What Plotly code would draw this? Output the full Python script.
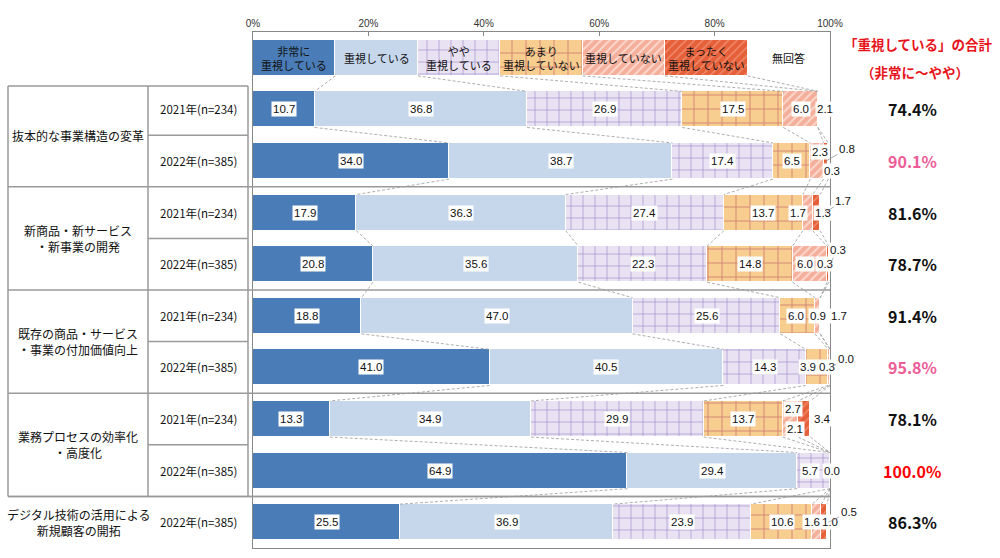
import plotly.graph_objects as go

# ---------------- data ----------------
CATEGORIES = ["非常に<br>重視している", "重視している", "やや<br>重視している",
              "あまり<br>重視していない", "重視していない", "まったく<br>重視していない", "無回答"]
GROUPS = ["抜本的な事業構造の変革", "新商品・新サービス<br>・新事業の開発",
          "既存の商品・サービス<br>・事業の付加価値向上", "業務プロセスの効率化<br>・高度化",
          "デジタル技術の活用による<br>新規顧客の開拓"]
GROUP_ROWS = [2, 2, 2, 2, 1]
YEARS = ["2021年(n=234)", "2022年(n=385)", "2021年(n=234)", "2022年(n=385)",
         "2021年(n=234)", "2022年(n=385)", "2021年(n=234)", "2022年(n=385)",
         "2022年(n=385)"]
HIGHLY = [10.7, 34.0, 17.9, 20.8, 18.8, 41.0, 13.3, 64.9, 25.5]
IMPORTANT = [36.8, 38.7, 36.3, 35.6, 47.0, 40.5, 34.9, 29.4, 36.9]
SOMEWHAT = [26.9, 17.4, 27.4, 22.3, 25.6, 14.3, 29.9, 5.7, 23.9]
NOT_MUCH = [17.5, 6.5, 13.7, 14.8, 6.0, 3.9, 13.7, 0.0, 10.6]
NOT_IMPORTANT = [6.0, 2.3, 1.7, 6.0, 0.9, 0.3, 2.7, None, 1.6]
NOT_AT_ALL = [None, 0.8, 1.3, 0.3, None, 0.0, 2.1, None, 1.0]
NO_ANSWER = [2.1, 0.3, 1.7, 0.3, 1.7, None, 3.4, None, 0.5]
TOTALS = [74.4, 90.1, 81.6, 78.7, 91.4, 95.8, 78.1, 100.0, 86.3]
TOTAL_HEADER = "「重視している」の合計"
TOTAL_SUBHEADER = "（非常に～やや）"
X_TICKS = [0, 20, 40, 60, 80, 100]

SERIES = [HIGHLY, IMPORTANT, SOMEWHAT, NOT_MUCH, NOT_IMPORTANT, NOT_AT_ALL, NO_ANSWER]

# ---------------- style ----------------
W, H = 1000, 558
TOP_PX, BOT_PX = 32, 548
X0_PX, X1_PX = 253, 830
BAR_W = 0.7
FONT = "Noto Sans CJK JP, Noto Sans, sans-serif"
NUMFONT = "Liberation Sans, Arial, Noto Sans CJK JP"

MARKERS = [
    dict(color="#4A7DB7"),
    dict(color="#C6D7EC"),
    dict(color="#E9E2F2", pattern=dict(shape="+", fgcolor="#9D84CA", bgcolor="#E9E2F2",
                                       size=12, solidity=0.1, fillmode="replace")),
    dict(color="#F8CD90", pattern=dict(shape="+", fgcolor="#D28374", bgcolor="#F8CD90",
                                       size=14, solidity=0.13, fillmode="replace")),
    dict(color="#F6B5A2", pattern=dict(shape="/", fgcolor="#FBD8CC", bgcolor="#F4AE9A",
                                       size=6, solidity=0.35, fillmode="replace")),
    dict(color="#E8663F", pattern=dict(shape="/", fgcolor="#EF8C6E", bgcolor="#E55F38",
                                       size=6, solidity=0.25, fillmode="replace")),
    dict(color="#FFFFFF"),
]
TOTAL_COLORS = ["#111111", "#EE5C98", "#111111", "#111111", "#111111",
                "#EE5C98", "#111111", "#FF0000", "#111111"]

# pixel shifts (x, y-up) for crowded small labels: (row, series)
LABEL_SHIFT = {
    (0, 6): (1, 0),
    (1, 4): (3, 9), (1, 5): (21, 12), (1, 6): (3, -10),
    (2, 4): (-10, 0), (2, 5): (7, 0), (2, 6): (18, 12),
    (3, 4): (-5, 0), (3, 5): (-3, 0), (3, 6): (8, 14),
    (4, 3): (-2, 0), (4, 4): (0, 0), (4, 6): (14, 0),
    (5, 3): (-9, 0), (5, 4): (-2, 0), (5, 5): (16, 8),
    (6, 4): (3, 10), (6, 5): (-9, -10), (6, 6): (2, 0),
    (7, 2): (-4, 0), (7, 3): (2, 0),
    (8, 4): (-5, 0), (8, 5): (6, 0), (8, 6): (20, 10),
}
# labels that sit outside the bar get a thin leader line
LEADER = {(1, 5), (2, 6), (3, 6), (5, 5), (8, 6)}

n_rows = len(YEARS)
n_cat = len(CATEGORIES)
legend_w = 100.0 / n_cat
rows_y = list(range(n_rows + 1))  # 0 = legend row


def py_paper(px):
    return 1 - px / H


def row_paper(r):
    pitch = (BOT_PX - TOP_PX) / (n_rows + 1)
    return py_paper(TOP_PX + (r + 0.5) * pitch)


fig = go.Figure()

for k, vals in enumerate(SERIES):
    fig.add_trace(go.Bar(
        orientation="h", y=rows_y, x=[legend_w] + list(vals), width=BAR_W,
        marker=dict(**MARKERS[k], line=dict(color="#FFFFFF", width=1.2)),
        hoverinfo="skip", showlegend=False,
    ))

# series (connector) lines
matrix = [[legend_w] * n_cat] + [[(SERIES[k][i] or 0) for k in range(n_cat)] for i in range(n_rows)]
cums = []
for row in matrix:
    c, acc = [], 0
    for v in row:
        acc += v
        c.append(min(round(acc, 6), 100))
    cums.append(c)
lx, ly = [], []
for i in range(n_rows):
    for k in range(n_cat - 1):
        lx += [cums[i][k], cums[i + 1][k], None]
        ly += [i + BAR_W / 2, i + 1 - BAR_W / 2, None]
fig.add_trace(go.Scatter(x=lx, y=ly, mode="lines", hoverinfo="skip", showlegend=False,
                         line=dict(color="#999999", width=0.8, dash="3px,2px")))

ann = []
# legend-row labels
for k, name in enumerate(CATEGORIES):
    ann.append(dict(x=(k + 0.5) * legend_w, y=0, xref="x", yref="y", text=name,
                    xanchor="center", showarrow=False,
                    font=dict(family=FONT, size=11, color="#111111")))
# data labels
for i in range(n_rows):
    start = 0
    for k in range(n_cat):
        v = SERIES[k][i]
        if v is None:
            continue
        dx, dy = LABEL_SHIFT.get((i, k), (0, 0))
        xc = min(round(start + v / 2, 6), 100)
        font = dict(family=NUMFONT, size=11.5, color="#111111")
        if (i, k) in LEADER:
            ann.append(dict(x=xc, y=i + 1, xref="x", yref="y", text=f"{v:.1f}",
                            showarrow=True, ax=dx, ay=-dy, arrowhead=0, arrowwidth=0.7,
                            arrowcolor="#888888", standoff=0, bgcolor="#FFFFFF",
                            borderpad=1, font=font))
        else:
            ann.append(dict(x=xc, y=i + 1, xref="x", yref="y", text=f"{v:.1f}",
                            xanchor="center", showarrow=False, xshift=dx, yshift=dy,
                            bgcolor="#FFFFFF", borderpad=1, font=font))
        start += v
# table text
r = 1
for g, cnt in zip(GROUPS, GROUP_ROWS):
    ann.append(dict(x=0.078, y=r + (cnt - 1) / 2, xref="paper", yref="y", text=g,
                    xanchor="center", showarrow=False,
                    font=dict(family=FONT, size=12, color="#111111")))
    r += cnt
for i, yl in enumerate(YEARS):
    ann.append(dict(x=0.198, y=i + 1, xref="paper", yref="y", text=yl, xanchor="center",
                    showarrow=False, font=dict(family=FONT, size=11.5, color="#111111")))
# totals
for i, t in enumerate(TOTALS):
    ann.append(dict(x=0.912, y=i + 1, xref="paper", yref="y", text=f"<b>{t:.1f}%</b>",
                    xanchor="center", showarrow=False,
                    font=dict(family=FONT, size=16, color=TOTAL_COLORS[i])))
ann.append(dict(x=0.918, y=py_paper(44), xref="paper", yref="paper", text=f"<b>{TOTAL_HEADER}</b>",
                xanchor="center", yanchor="middle", showarrow=False,
                font=dict(family=FONT, size=13.5, color="#E8141B")))
ann.append(dict(x=0.915, y=py_paper(72), xref="paper", yref="paper", text=f"<b>{TOTAL_SUBHEADER}</b>",
                xanchor="center", yanchor="middle", showarrow=False,
                font=dict(family=FONT, size=13.5, color="#E8141B")))

# table / separator lines
shapes = []
LC = "#9A9A9A"
t_top = py_paper(86)
t_bot = row_paper(n_rows - 0.5)
for xp in [0.008, 0.148, 0.248]:
    shapes.append(dict(type="line", xref="paper", yref="paper", x0=xp, x1=xp, y0=t_top, y1=t_bot,
                       line=dict(color=LC, width=1.5)))
shapes.append(dict(type="line", xref="paper", yref="paper", x0=0.008, x1=0.248, y0=t_top, y1=t_top,
                   line=dict(color=LC, width=1.5)))
shapes.append(dict(type="line", xref="paper", yref="paper", x0=0.008, x1=X1_PX / W, y0=t_bot, y1=t_bot,
                   line=dict(color=LC, width=1.5)))
r = 1
for cnt in GROUP_ROWS:
    if cnt == 2:
        yp = row_paper(r + 0.5)
        shapes.append(dict(type="line", xref="paper", yref="paper", x0=0.148, x1=0.248, y0=yp, y1=yp,
                           line=dict(color=LC, width=1.5)))
    r += cnt
    if r <= n_rows:
        yp = row_paper(r - 0.5)
        shapes.append(dict(type="line", xref="paper", yref="paper", x0=0.008, x1=X1_PX / W, y0=yp, y1=yp,
                           line=dict(color=LC, width=1.5)))

fig.update_layout(
    autosize=True, margin=dict(l=0, r=0, t=0, b=0, autoexpand=False),
    paper_bgcolor="#FFFFFF", plot_bgcolor="#FFFFFF",
    barmode="stack", bargap=0, annotations=ann, shapes=shapes,
    xaxis=dict(domain=[X0_PX / W, X1_PX / W], range=[0, 100], side="top",
               tickvals=X_TICKS, ticktext=[f"{v}%" for v in X_TICKS],
               ticks="inside", ticklen=4, tickcolor="#888888",
               showline=True, linecolor="#888888", linewidth=1, mirror=True,
               showgrid=False, zeroline=False,
               tickfont=dict(family=NUMFONT, size=10, color="#333333")),
    yaxis=dict(domain=[py_paper(BOT_PX), py_paper(TOP_PX)], range=[n_rows + 0.5, -0.5],
               showticklabels=False, ticks="", showgrid=False, zeroline=False,
               showline=True, linecolor="#888888", linewidth=1, mirror=True),
)

fig.write_html(
    "out.html",
    config={"displayModeBar": False, "responsive": True},
    default_width="100vw", default_height="100vh",
    post_script=("document.documentElement.style.margin='0';"
                 "document.body.style.margin='0';"
                 "document.body.style.overflow='hidden';"
                 "Plotly.Plots.resize(document.getElementById('{plot_id}'));"),
)
